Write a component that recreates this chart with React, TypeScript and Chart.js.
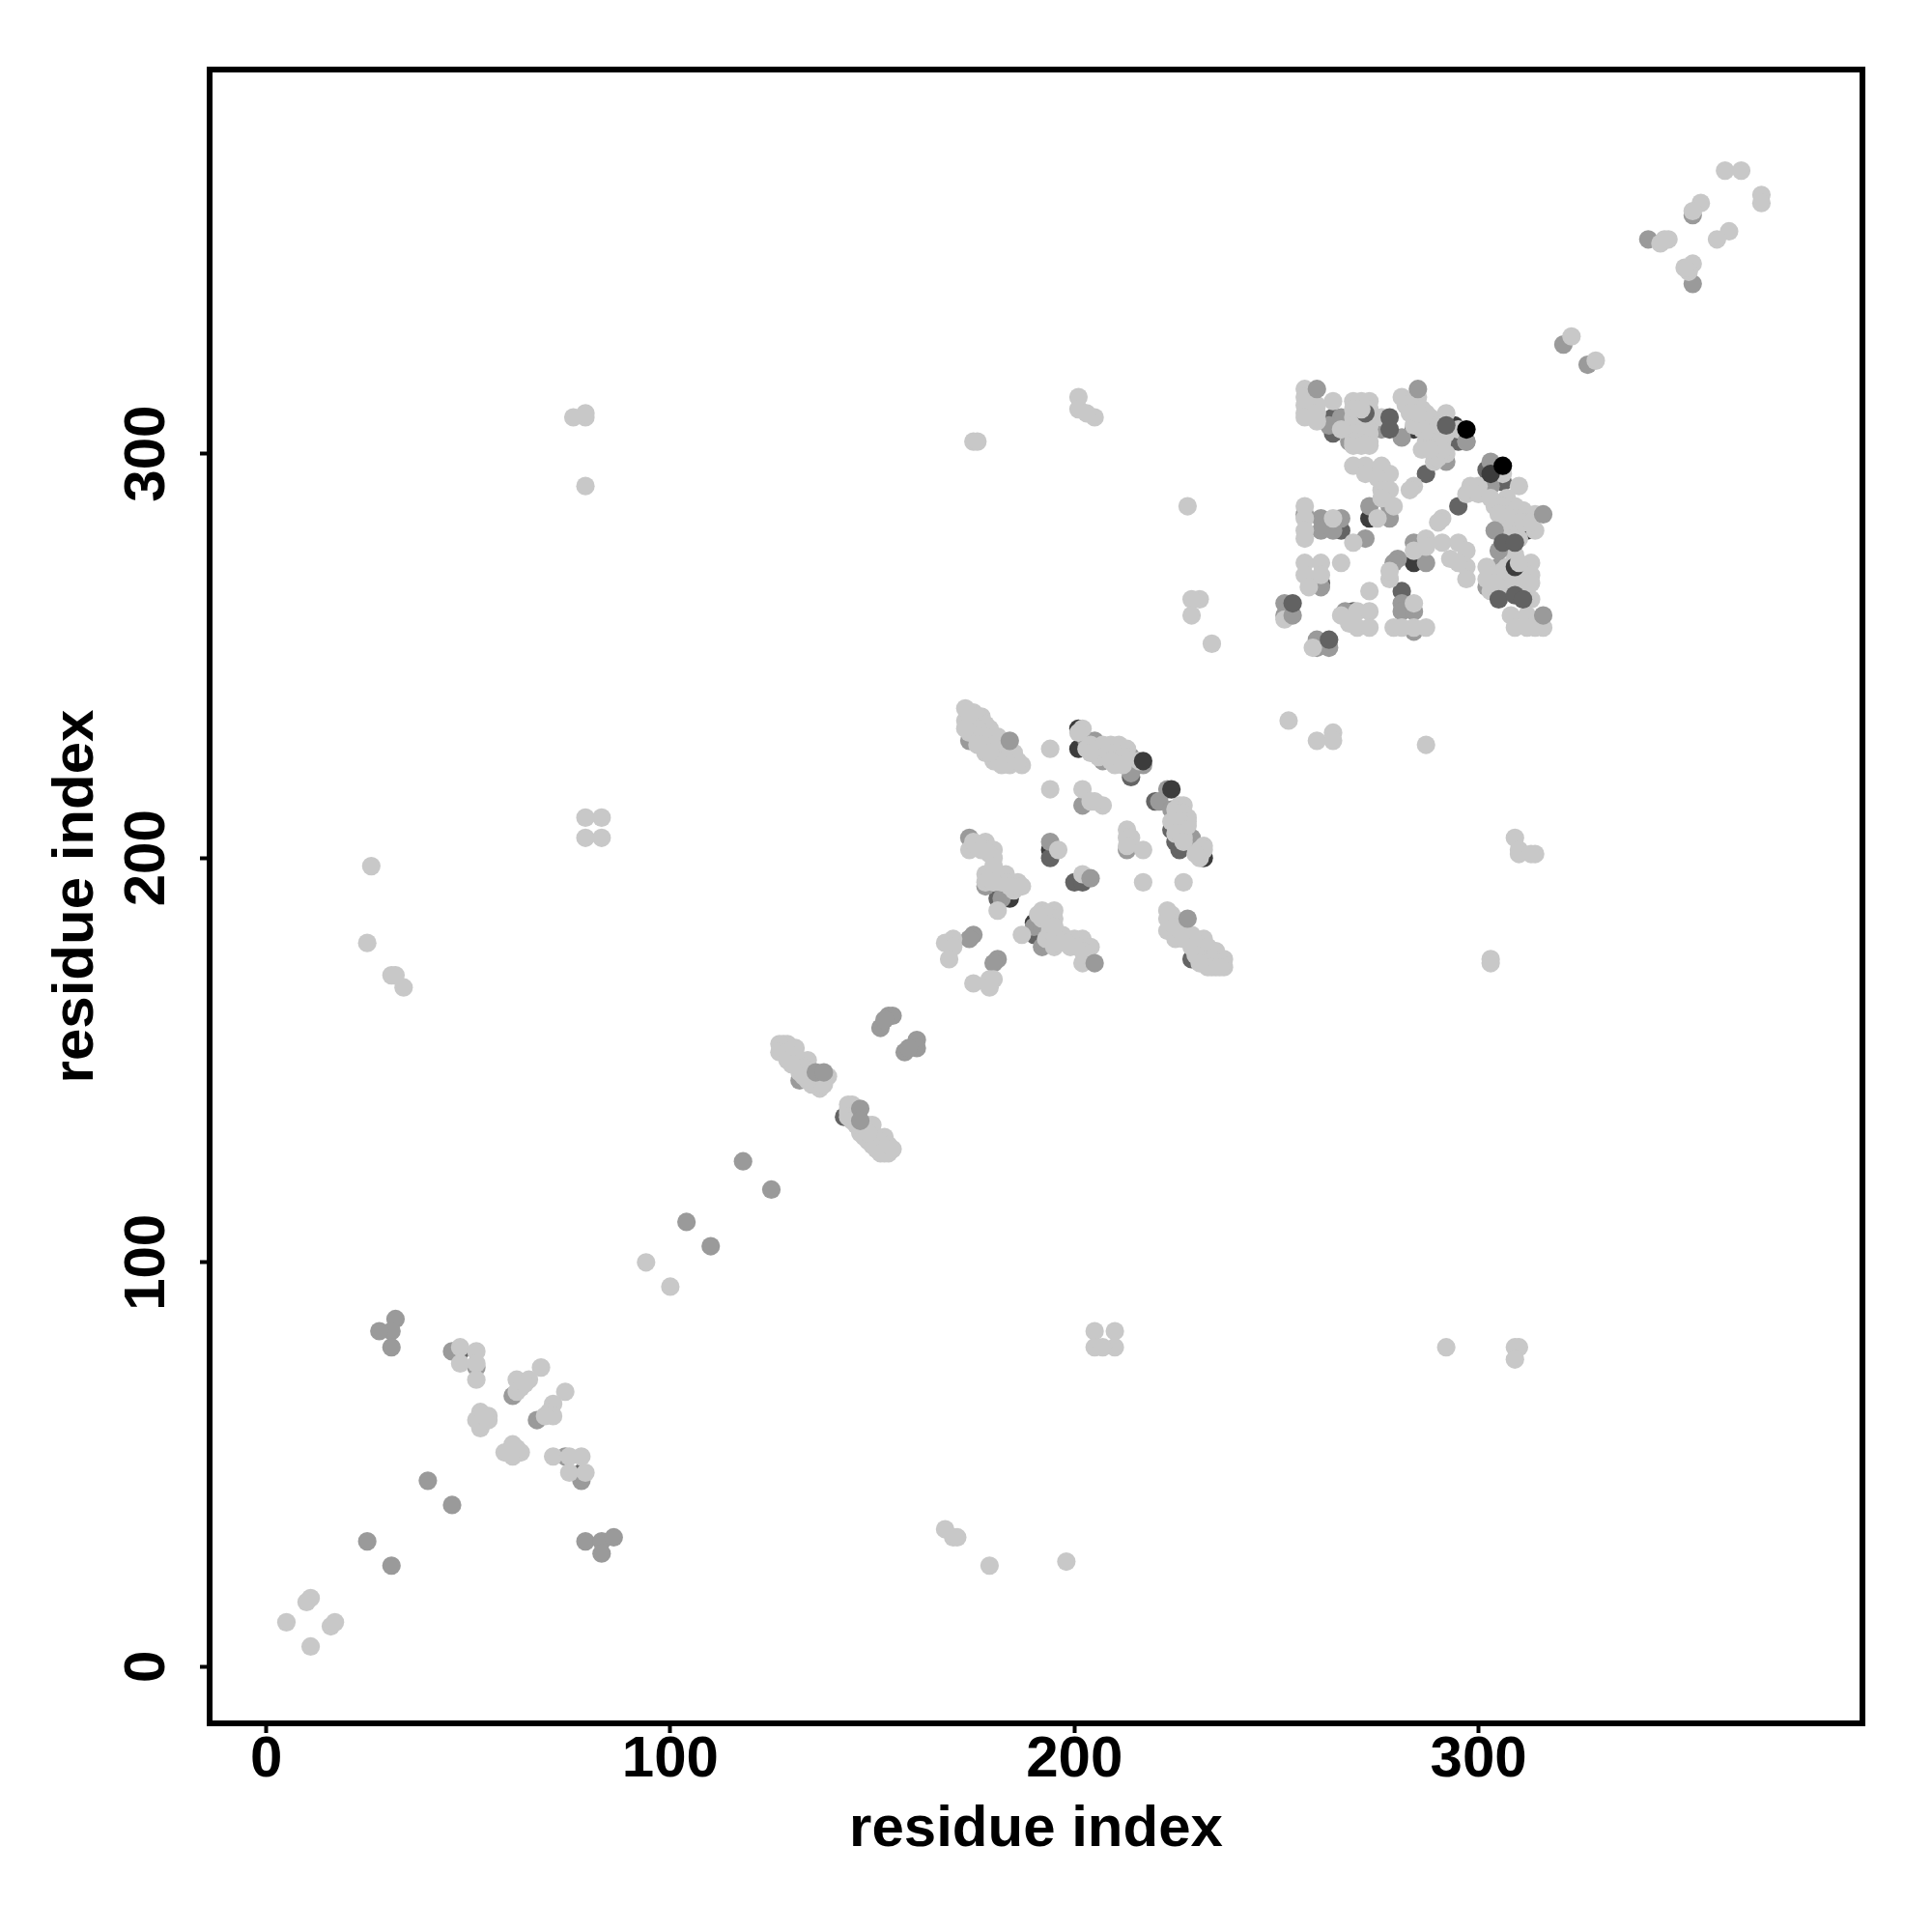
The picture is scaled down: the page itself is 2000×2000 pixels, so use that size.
import React, { useEffect, useRef } from "react";
import { Chart, registerables } from "chart.js";

Chart.register(...registerables);

type P = [number, number];

const axisTitle = "residue index";
const axisTicks = [0, 100, 200, 300];

const darkestContacts: P[] = [
  [294,307],[294,304],[312,281],[273,284],[284,273],[201,232],[201,227],[232,200],[194,202],[184,190],[190,184],[284,306],
];
const darkContacts: P[] = [
  [264,309],[264,305],[287,295],[295,303],[302,296],[306,293],[295,287],[266,281],[261,268],[269,261],[281,266],
  [214,220],[220,214],[224,207],[225,204],[226,202],[181,190],[194,200],[200,194],[202,194],[190,181],[229,175],[48,78],[78,48],[135,145],[143,136],
];
const midContacts: P[] = [
  [266,309],[263,307],[276,306],[281,304],[292,298],[297,303],[268,303],[303,298],[303,292],[305,272],[302,267],[273,287],[278,284],[278,287],[272,279],[257,285],[261,284],[261,281],[266,284],[264,281],[261,267],[252,263],[252,260],[260,254],[260,252],[263,252],[267,261],[281,263],[281,261],[284,261],[284,256],[280,274],[279,273],[287,273],[284,278],
  [321,327],[327,322],[342,353],[353,342],[353,359],
  [174,229],[203,229],[205,229],[214,225],[214,221],[207,224],[217,223],[202,213],[223,217],[221,214],[224,212],[229,205],[229,204],[225,208],[174,205],[178,193],[184,194],[182,190],[194,204],[213,202],[190,183],[192,183],[192,178],[175,181],[174,180],[181,175],[180,174],
  [32,86],[31,83],[31,79],[28,83],[46,78],[52,74],[61,67],[67,61],[74,52],[78,46],[40,46],[46,40],[79,31],[83,31],[86,32],[83,28],[25,31],[31,25],
  [118,125],[125,118],[104,110],[110,104],[152,158],[154,161],[155,161],[153,160],[158,152],[161,155],[161,153],[159,153],[132,145],
];
const lightContacts: P[] = [
  [257,316],[257,314],[257,312],[257,310],[257,309],[260,312],[260,310],[260,308],[264,313],
  [269,313],[271,313],[273,313],[269,311],[273,311],[269,309],[273,309],[269,307],[271,307],[273,307],[269,305],[271,305],[273,305],[269,303],[271,303],[273,303],[269,302],[271,302],[273,302],[266,306],
  [276,309],[281,314],[283,313],[285,314],[284,311],[287,310],[285,308],[287,307],[284,307],[287,303],[289,303],[290,305],[292,310],[292,305],[289,300],[289,298],[292,300],[295,306],[284,292],[283,291],
  [282,312],[284,313],[286,311],[288,309],[286,306],[288,305],[290,307],[283,310],[285,310],[289,302],[291,303],[290,299],[291,301],[286,301],[288,301],
  [306,295],[310,292],[298,292],[300,292],[297,290],[304,287],[307,289],[309,287],[311,286],[314,285],[314,281],[309,281],[306,284],[308,283],[309,275],[313,273],[313,270],[302,272],[302,269],[307,272],[306,268],[309,269],[313,264],[316,257],[308,260],[309,257],[312,260],[312,257],[314,257],[291,284],[290,283],
  [300,290],[303,289],[306,287],[307,285],[309,284],[310,283],[305,285],[311,283],[313,283],[308,280],[310,279],[307,279],[306,271],[307,270],[309,271],[310,270],[311,271],[311,268],[312,268],[307,266],[308,267],[304,270],[303,266],[304,268],[311,266],[313,268],
  [269,297],[272,297],[276,297],[272,295],[278,295],[275,294],[276,291],[278,291],[276,289],[279,287],[275,284],[269,278],
  [257,287],[257,284],[257,281],[257,279],[264,284],[257,273],[261,273],[266,273],[257,270],[261,270],[258,267],[252,259],[259,252],[266,260],[268,258],[270,261],[273,261],[270,257],[273,257],[273,266],[284,263],[279,257],[281,257],[284,257],[287,257],
  [278,269],[278,271],[287,279],[284,276],[287,277],[291,278],[295,278],[297,276],[293,274],[297,272],[295,273],[297,269],
  [361,370],[365,370],[370,364],[370,362],[355,362],[353,360],[362,355],[359,353],[346,353],[345,352],[347,353],[353,347],[352,345],[351,346],[323,329],[329,323],
  [253,234],[260,229],[264,231],[264,229],[287,228],[228,287],[231,264],[229,264],[229,260],[234,253],[175,303],[176,303],[201,314],[201,311],[205,309],[203,310],
  [76,309],[79,309],[79,310],[79,292],[79,210],[83,210],[79,205],[83,205],[26,198],[25,179],[31,171],[32,171],[34,168],[309,205],[310,202],[314,201],[310,201],[313,201],[303,175],[303,174],
  [94,100],[100,94],[205,83],[210,83],[205,79],[210,79],[207,79],[292,79],[309,79],[310,79],[309,76],[168,34],[170,32],[171,32],[179,25],[198,26],[5,11],[11,5],[10,16],[11,17],[16,10],[17,11],
  [173,237],[175,236],[177,235],[173,234],[175,232],[177,232],[179,232],[176,230],[181,230],[179,228],[181,228],[180,224],[182,223],[185,226],[187,223],[185,224],[184,223],
  [174,236],[176,235],[178,233],[174,233],[176,232],[178,230],[180,228],[174,231],[176,228],[178,226],[182,226],[184,225],[186,224],[183,224],[181,224],[177,228],[179,226],[173,232],
  [202,232],[201,231],[203,227],[205,226],[207,228],[209,228],[211,228],[213,227],[213,225],[210,223],[216,224],
  [204,228],[206,227],[208,226],[210,226],[212,225],[206,225],[209,224],[204,226],[212,223],
  [194,227],[194,217],[202,217],[207,213],[204,214],[205,214],[226,213],[227,213],[228,210],[224,209],[228,208],[232,203],[231,200],
  [225,212],[226,211],[227,211],[228,209],[226,209],[227,207],[225,206],[227,205],[231,202],[232,202],[230,201],[226,206],[227,204],
  [174,202],[175,204],[178,204],[180,202],[178,202],[180,200],[178,196],[181,196],[183,196],[178,194],[186,194],[186,193],[181,187],[196,202],[202,196],[217,194],[227,194],[213,207],[213,205],[214,205],[217,202],[213,203],
  [176,203],[177,202],[179,201],[180,198],[182,194],[179,195],[183,194],[185,192],[180,194],[184,193],[187,193],
  [192,187],[195,187],[192,185],[195,185],[187,181],[193,180],[196,181],[195,178],[197,181],[200,180],[202,180],[204,178],[202,174],[200,179],
  [193,186],[194,184],[194,182],[196,179],[198,179],[199,178],[201,178],[202,177],[203,176],[195,183],[191,186],
  [223,187],[223,185],[223,182],[225,180],[227,183],[229,181],[232,180],[231,176],[235,177],[233,175],[237,173],[235,173],[237,175],
  [224,186],[224,184],[226,182],[225,183],[228,181],[230,179],[227,180],[229,178],[231,178],[233,178],[232,176],[234,175],[233,173],[236,174],[231,175],[234,173],[236,173],[230,176],[231,174],
  [168,179],[170,180],[170,178],[169,175],[175,169],[179,170],[180,170],[179,168],
  [48,79],[48,75],[52,78],[52,75],[52,71],[68,74],[62,71],[65,71],[63,69],[62,68],[64,70],[74,68],[71,65],[70,63],[71,62],[69,62],[53,63],[55,62],[52,61],[53,59],[55,61],[54,62],[61,55],[63,53],[59,53],[61,52],[62,54],[71,52],[75,52],[78,52],[75,48],[79,48],
  [128,154],[129,154],[131,153],[128,153],[130,151],[132,149],[134,150],[132,147],[134,147],[135,144],[137,143],[139,146],
  [127,154],[127,152],[129,152],[131,151],[129,150],[131,149],[133,148],[130,149],[133,146],[135,146],[136,144],[138,144],[134,145],
  [145,139],[144,138],[149,134],[147,132],[150,132],[153,131],[149,130],[154,127],[153,129],[151,128],[153,127],
  [145,138],[146,138],[144,139],[144,137],[146,136],[148,133],[150,134],[151,131],[152,130],[150,129],[152,127],[154,129],[155,128],[148,131],[149,132],[144,136],[145,135],[146,134],
];
const upperMidContacts: P[] = [
  [260,316],[285,316],[297,303],[316,285],[316,260],[254,260],[184,229],[228,185],[205,174],[204,195],[136,147],[138,147],[147,138],[147,135],[304,281],[305,276],
];
const upperDarkContacts: P[] = [[254,263],[263,254],[272,310],[278,309],[278,306],[292,307],[306,278],[309,278],[305,264],[309,265],[311,264]];
const upperDarkestContacts: P[] = [[217,224],[224,217],[309,272],[303,295]];
const upperLightContacts: P[] = [[271,311],[310,273]];
const blackContacts: P[] = [[297,306],[306,297]];

const contactLayers: [P[], string][] = [
  [blackContacts, "#000000"],
  [upperLightContacts, "#c8c8c8"],
  [upperDarkestContacts, "#3c3c3c"],
  [upperDarkContacts, "#626262"],
  [upperMidContacts, "#9a9a9a"],
  [lightContacts, "#c8c8c8"],
  [midContacts, "#9a9a9a"],
  [darkContacts, "#646464"],
  [darkestContacts, "#3c3c3c"],
];

const frame = {
  id: "frame",
  afterDatasetsDraw(chart: Chart) {
    const { ctx, chartArea: a } = chart;
    ctx.save();
    ctx.strokeStyle = "#000";
    ctx.lineWidth = 6;
    ctx.strokeRect(a.left, a.top, a.right - a.left, a.bottom - a.top);
    ctx.restore();
  },
};

export default function App() {
  const ref = useRef<HTMLCanvasElement>(null);
  useEffect(() => {
    document.body.style.margin = "0";
    const font = { family: "'Liberation Sans'", size: 60, weight: "bold" as const };
    const common = {
      min: -14,
      max: 395,
      border: { display: true, color: "#000", width: 6 },
      grid: { drawOnChartArea: false, drawTicks: true, tickLength: 10, tickWidth: 4, tickColor: "#000" },
      afterBuildTicks(s: any) {
        s.ticks = axisTicks.map((value) => ({ value }));
      },
    };
    const chart = new Chart(ref.current!, {
      type: "scatter",
      data: {
        datasets: contactLayers.map(([pts, color]) => ({
          data: pts.map(([x, y]) => ({ x, y })),
          backgroundColor: color,
          pointRadius: 9.6,
          pointBorderWidth: 0,
          pointHoverRadius: 9.6,
        })),
      },
      options: {
        animation: false,
        responsive: false,
        events: [],
        layout: { padding: { left: 0, top: 72, right: 72, bottom: 0 } },
        plugins: { legend: { display: false }, tooltip: { enabled: false } },
        scales: {
          x: {
            ...common,
            type: "linear",
            position: "bottom",
            afterFit(s: any) { s.height = 216; },
            ticks: { color: "#000", font, padding: -8, maxRotation: 0, minRotation: 0, includeBounds: false },
            title: { display: true, text: axisTitle, color: "#000", font, padding: { top: 0, bottom: 70 } },
          },
          y: {
            ...common,
            type: "linear",
            position: "left",
            afterFit(s: any) { s.width = 217; },
            ticks: { color: "#000", font, padding: 3, minRotation: 90, maxRotation: 90, crossAlign: "center", includeBounds: false },
            title: { display: true, text: axisTitle, color: "#000", font, padding: { top: 43, bottom: 0 } },
          },
        },
      },
      plugins: [frame],
    } as any);
    return () => chart.destroy();
  }, []);
  return <canvas ref={ref} width={2000} height={2000} style={{ display: "block", width: 2000, height: 2000 }} />;
}
